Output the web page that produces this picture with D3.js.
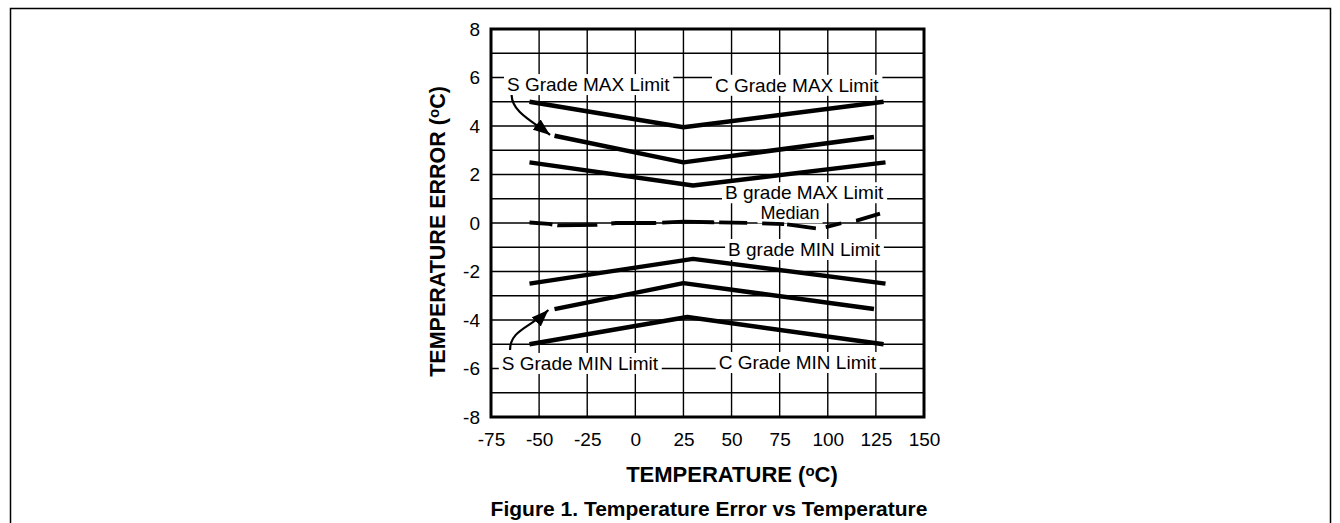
<!DOCTYPE html>
<html>
<head>
<meta charset="utf-8">
<script src="https://cdn.jsdelivr.net/npm/d3@7"></script>
<style>
  body { margin: 0; background: #fff; }
  svg text { font-family: "Liberation Sans", Arial, sans-serif; fill: #000; }
</style>
</head>
<body>
<svg id="chart" width="1340" height="523"></svg>
<script>
// tick values
const tempTicks = [-75, -50, -25, 0, 25, 50, 75, 100, 125, 150];
const errorTicks = [-8, -6, -4, -2, 0, 2, 4, 6, 8];
const errorGrid = [-8, -7, -6, -5, -4, -3, -2, -1, 0, 1, 2, 3, 4, 5, 6, 7, 8];

// limit curves: [temperature, error]
const cGradeMax = [[-55, 5], [25, 3.95], [129, 5]];
const sGradeMax = [[-42, 3.6], [25, 2.5], [124, 3.55]];
const bGradeMax = [[-55, 2.5], [30, 1.55], [130, 2.5]];
const median = [[-55, 0.02], [-45, -0.04], [-40, -0.1], [-20, -0.08], [-10, 0], [10, 0],
                [25, 0.06], [40, 0.03], [60, 0], [78, -0.05], [95, -0.23], [100, -0.15],
                [108, 0.01], [115, 0.1], [129, 0.43]];
const bGradeMin = [[-55, -2.5], [30, -1.48], [130, -2.5]];
const sGradeMin = [[-42, -3.55], [25, -2.48], [124, -3.55]];
const cGradeMin = [[-55, -5], [27, -3.88], [129, -5]];

const limitNames = ["S Grade MAX Limit", "C Grade MAX Limit", "B grade MAX Limit", "Median",
                    "B grade MIN Limit", "S Grade MIN Limit", "C Grade MIN Limit"];

const svg = d3.select("#chart");
const font = '"Liberation Sans", Arial, sans-serif';

// page frame
svg.append("path")
    .attr("d", "M10.5,523 V8.5 H1330.5 V523")
    .attr("fill", "none")
    .attr("stroke", "#000")
    .attr("stroke-width", 1.5);

// scales
const x = d3.scaleLinear().domain([-75, 150]).range([491, 924]);
const y = d3.scaleLinear().domain([-8, 8]).range([417, 29]);

// grid
const grid = svg.append("g").attr("stroke", "#000").attr("stroke-width", 1.4);
grid.selectAll("line.v")
    .data(tempTicks)
    .join("line")
    .attr("class", "v")
    .attr("x1", d => x(d)).attr("x2", d => x(d))
    .attr("y1", y(8)).attr("y2", y(-8));
grid.selectAll("line.h")
    .data(errorGrid)
    .join("line")
    .attr("class", "h")
    .attr("x1", x(-75)).attr("x2", x(150))
    .attr("y1", d => y(d)).attr("y2", d => y(d));

// labels with white boxes (placed in data units)
const labelPos = [
    {t: -66.7, e: 5.44, anchor: "start", size: 19},
    {t: 41.4, e: 5.41, anchor: "start", size: 19},
    {t: 46.6, e: 0.98, anchor: "start", size: 19},
    {t: 80.4, e: 0.15, anchor: "middle", size: 18},
    {t: 48.2, e: -1.36, anchor: "start", size: 19},
    {t: -69.4, e: -6.06, anchor: "start", size: 19},
    {t: 43.3, e: -6.02, anchor: "start", size: 19}
];
const labelG = svg.append("g");
limitNames.forEach((name, i) => {
    const p = labelPos[i];
    const g = labelG.append("g");
    const txt = g.append("text")
        .attr("x", x(p.t))
        .attr("y", y(p.e))
        .attr("text-anchor", p.anchor)
        .style("font-size", p.size + "px")
        .text(name);
    const bb = txt.node().getBBox();
    g.insert("rect", "text")
        .attr("x", bb.x - 3)
        .attr("y", bb.y)
        .attr("width", bb.width + 6)
        .attr("height", bb.height)
        .attr("fill", "#fff");
});

// plot frame
svg.append("rect")
    .attr("x", x(-75)).attr("y", y(8))
    .attr("width", x(150) - x(-75))
    .attr("height", y(-8) - y(8))
    .attr("fill", "none")
    .attr("stroke", "#000")
    .attr("stroke-width", 3);

// curves
const line = d3.line().x(d => x(d[0])).y(d => y(d[1]));
const solid = [cGradeMax, sGradeMax, bGradeMax, bGradeMin, sGradeMin, cGradeMin];
svg.append("g")
    .selectAll("path")
    .data(solid)
    .join("path")
    .attr("d", line)
    .attr("fill", "none")
    .attr("stroke", "#000")
    .attr("stroke-width", 4.5)
    .attr("stroke-linejoin", "round");

svg.append("path")
    .datum(median)
    .attr("d", line)
    .attr("fill", "none")
    .attr("stroke", "#000")
    .attr("stroke-width", 3.8)
    .attr("stroke-dasharray", "23,5,40,14,45,6,52,5,28,15,22,3,29,10,16,15,25");

// arrows to the S grade curves
svg.append("defs").append("marker")
    .attr("id", "head")
    .attr("markerUnits", "userSpaceOnUse")
    .attr("markerWidth", 18).attr("markerHeight", 13)
    .attr("refX", 17).attr("refY", 6.5)
    .attr("orient", "auto")
    .append("path")
    .attr("d", "M0,0 L17,6.5 L0,13 Z")
    .attr("fill", "#000");

const arrows = [
    [[-64.3, 5.28], [-64.1, 4.58], [-53.7, 4.21], [-44.3, 3.63]],
    [[-65.1, -5.24], [-65.1, -4.41], [-54.7, -4.33], [-45.2, -3.59]]
];
svg.append("g")
    .selectAll("path")
    .data(arrows)
    .join("path")
    .attr("d", a => `M${x(a[0][0])},${y(a[0][1])} C${x(a[1][0])},${y(a[1][1])} ${x(a[2][0])},${y(a[2][1])} ${x(a[3][0])},${y(a[3][1])}`)
    .attr("fill", "none")
    .attr("stroke", "#000")
    .attr("stroke-width", 2.2)
    .attr("marker-end", "url(#head)");

// axes
const yAxis = svg.append("g")
    .attr("transform", `translate(${x(-75)},0)`)
    .call(d3.axisLeft(y).tickValues(errorTicks).tickSize(0).tickPadding(11).tickFormat(d => String(d)))
    .attr("font-family", font)
    .attr("font-size", 19);
yAxis.select(".domain").remove();

const xAxis = svg.append("g")
    .attr("transform", `translate(0,${y(-8)})`)
    .call(d3.axisBottom(x).tickValues(tempTicks).tickSize(0).tickPadding(16).tickFormat(d => String(d)))
    .attr("font-family", font)
    .attr("font-size", 19);
xAxis.select(".domain").remove();

// axis titles
const xTitle = svg.append("text")
    .attr("x", 732)
    .attr("y", 481.7)
    .attr("text-anchor", "middle")
    .style("font-size", "22px")
    .style("font-weight", "bold");
xTitle.append("tspan").text("TEMPERATURE (");
xTitle.append("tspan").attr("dy", -6).style("font-size", "15px").text("o");
xTitle.append("tspan").attr("dy", 6).text("C)");

const yTitle = svg.append("text")
    .attr("transform", "translate(445,231.5) rotate(-90)")
    .attr("text-anchor", "middle")
    .style("font-size", "21.5px")
    .style("font-weight", "bold");
yTitle.append("tspan").text("TEMPERATURE ERROR (");
yTitle.append("tspan").attr("dy", -6).style("font-size", "15px").text("o");
yTitle.append("tspan").attr("dy", 6).text("C)");

// caption
svg.append("text")
    .attr("x", 709)
    .attr("y", 516)
    .attr("text-anchor", "middle")
    .style("font-size", "21px")
    .style("font-weight", "bold")
    .text("Figure 1. Temperature Error vs Temperature");
</script>
</body>
</html>
